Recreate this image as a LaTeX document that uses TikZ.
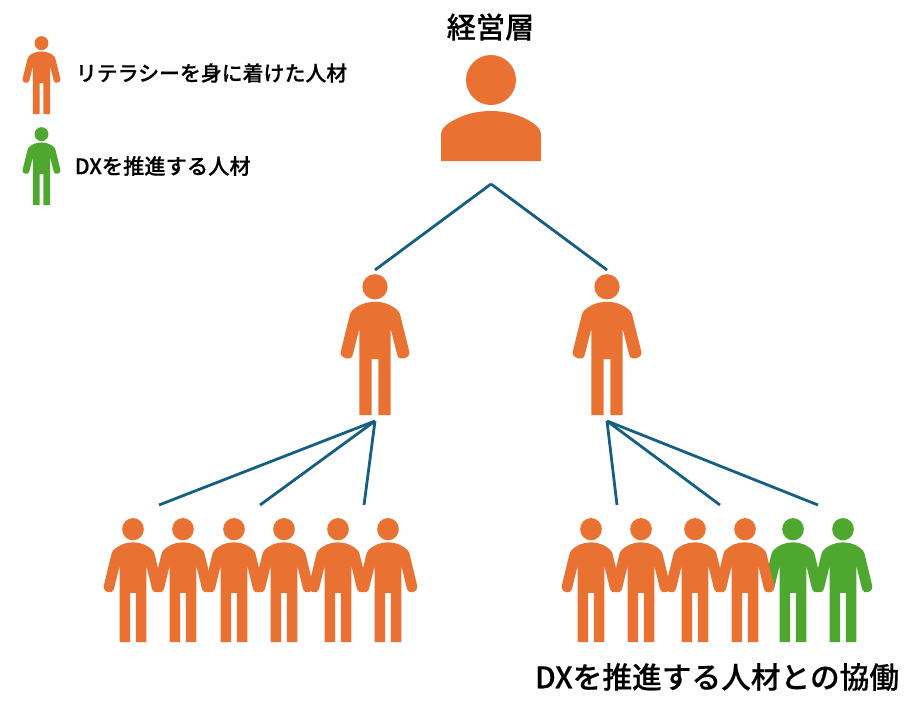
\documentclass[tikz,border=0pt]{standalone}
\usepackage{fontspec}
\newfontfamily\jpfont[FakeBold=0.35]{Noto Sans CJK JP Medium}
\definecolor{leaderorange}{HTML}{E97132}
\definecolor{dxgreen}{HTML}{4EA72E}
\definecolor{linkblue}{HTML}{156082}
\tikzset{
  pics/person/.style={code={
    \fill[pic actions] (0,-385) circle (38);
    \fill[pic actions] (0,-340) .. controls (-30,-340) and (-55,-328) .. (-70,-312)
      -- (-75,-303) -- (-103,-190) .. controls (-107,-170) and (-72,-160) .. (-67,-180)
      -- (-47,-260) -- (-47,0) -- (-10,0) -- (-10,-168) -- (10,-168) -- (10,0) -- (47,0)
      -- (47,-260) -- (67,-180) .. controls (72,-160) and (107,-170) .. (103,-190)
      -- (75,-303) -- (70,-312) .. controls (55,-328) and (30,-340) .. (0,-340) -- cycle;
  }},
  pics/bust/.style={code={
    \fill[pic actions] (0,-81) circle (25);
    \fill[pic actions] (-50,0) -- (-50,-26) .. controls (-50,-32) and (-46,-35) .. (-42,-38)
      .. controls (-30,-46) and (-15,-50) .. (0,-50)
      .. controls (15,-50) and (30,-46) .. (42,-38)
      .. controls (46,-35) and (50,-32) .. (50,-26) -- (50,0) -- cycle;
  }}
}
\begin{document}
\begin{tikzpicture}[x=0.02cm,y=-0.02cm]
    \tikzstyle{orangeman}=[fill=leaderorange]
    \tikzstyle{greenman}=[fill=dxgreen]
    \tikzstyle{smallrow}=[xscale=.285,yscale=.293]
    \tikzstyle{link}=[draw=linkblue,line width=1.6pt]
    \tikzstyle{caption}=[text=black,inner sep=0pt]
    \useasboundingbox (0,0) rectangle (918,714);

    \node[caption,font=\jpfont\fontsize{16.6}{18}\selectfont] (title) at (490.5,27) {経営層};
    \node[caption,font=\jpfont\fontsize{11.9}{14}\selectfont,anchor=west] (legend-1) at (75.5,73) {リテラシーを身に着けた人材};
    \node[caption,font=\jpfont\fontsize{12.1}{14}\selectfont,anchor=west] (legend-2) at (74.5,166) {DXを推進する人材};
    \node[caption,font=\jpfont\fontsize{16.9}{18}\selectfont] (collab) at (717,677) {DXを推進する人材との協働};

    \pic[orangeman,scale=.184] at (41.5,114) {person};
    \pic[greenman,scale=.184] at (41.5,205) {person};
    \pic[orangeman] at (491,161) {bust};

    \foreach \x in {375,607}
        \pic[orangeman,scale=.333] at (\x,415) {person};

    % green ones go first, the orange hand lies over them
    \foreach \x in {793,843}
        \pic[greenman,smallrow] at (\x,642) {person};
    \foreach \x in {133,183,234,284,338,388,591,641,695,745}
        \pic[orangeman,smallrow] at (\x,642) {person};

    \foreach \name/\x/\y in {top/491/184, left/375/421, right/607/421,
                             a/375/270, b/607/270,
                             c/159/505, d/260/505, e/364/505,
                             f/617/505, g/720/505, h/818/505}
        \coordinate (V-\name) at (\x,\y);

    \foreach \from/\to in {top/a, top/b, left/c, left/d, left/e, right/f, right/g, right/h}
        \draw[link] (V-\from) -- (V-\to);
\end{tikzpicture}
\end{document}
